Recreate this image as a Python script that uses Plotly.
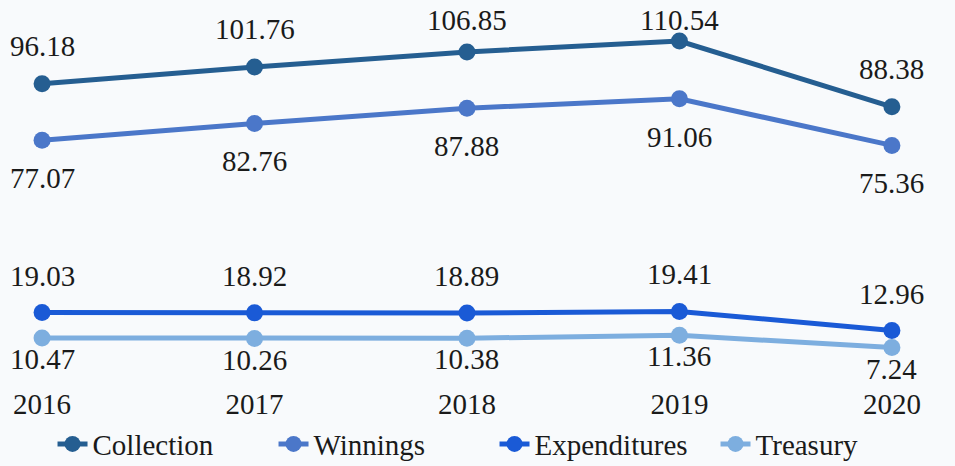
import plotly.graph_objects as go

years = [2016, 2017, 2018, 2019, 2020]
collection = [96.18, 101.76, 106.85, 110.54, 88.38]
winnings = [77.07, 82.76, 87.88, 91.06, 75.36]
expenditures = [19.03, 18.92, 18.89, 19.41, 12.96]
treasury = [10.47, 10.26, 10.38, 11.36, 7.24]

# (name, values, colour, label offset in px: + above / - below)
series = [
    ("Collection", collection, "#255E91", 38),
    ("Winnings", winnings, "#4B77C9", -38),
    ("Expenditures", expenditures, "#1A5AD6", 37),
    ("Treasury", treasury, "#7DAEDF", -21),
]

FONT = "Liberation Serif"
W, H = 955, 466
MT, MB = 10, 97
YMAX = 121
ppu = (H - MT - MB) / YMAX
MIN_LABEL_Y = 20  # labels kept inside the top edge

fig = go.Figure()
annotations = []
for name, vals, color, off in series:
    fig.add_trace(go.Scatter(
        x=years, y=vals, name=name, mode="lines+markers",
        line=dict(color=color, width=5),
        marker=dict(color=color, size=17),
    ))
    for x, v in zip(years, vals):
        shift = off
        if off > 0:
            py = MT + (YMAX - v) * ppu
            shift = min(off, py - MIN_LABEL_Y)
        annotations.append(dict(
            x=x, y=v, text=f"{v:.2f}", showarrow=False,
            xanchor="center", yanchor="middle", yshift=shift,
            font=dict(family=FONT, size=29, color="#1a1a1a"),
        ))

fig.update_layout(
    width=W, height=H,
    paper_bgcolor="#F8FAFC", plot_bgcolor="#F8FAFC",
    margin=dict(l=0, r=0, t=MT, b=MB, autoexpand=False),
    annotations=annotations,
    showlegend=True,
    legend=dict(
        orientation="h", yref="container", y=0.047, yanchor="middle",
        x=0.055, xanchor="left",
        font=dict(family=FONT, size=29, color="#1a1a1a"),
        entrywidth=176, entrywidthmode="pixels",
        bgcolor="rgba(0,0,0,0)",
    ),
    xaxis=dict(
        range=[2015.802, 2020.297], tickvals=years, ticktext=[str(y) for y in years],
        showgrid=False, zeroline=False, showline=False, automargin=False,
        ticks="outside", ticklen=0, ticklabelstandoff=9,
        tickfont=dict(family=FONT, size=29, color="#1a1a1a"),
    ),
    yaxis=dict(range=[0, YMAX], visible=False, showgrid=False, zeroline=False, automargin=False),
)

fig.write_html("out.html", config={"displayModeBar": False},
               post_script="document.body.style.margin='0';")
